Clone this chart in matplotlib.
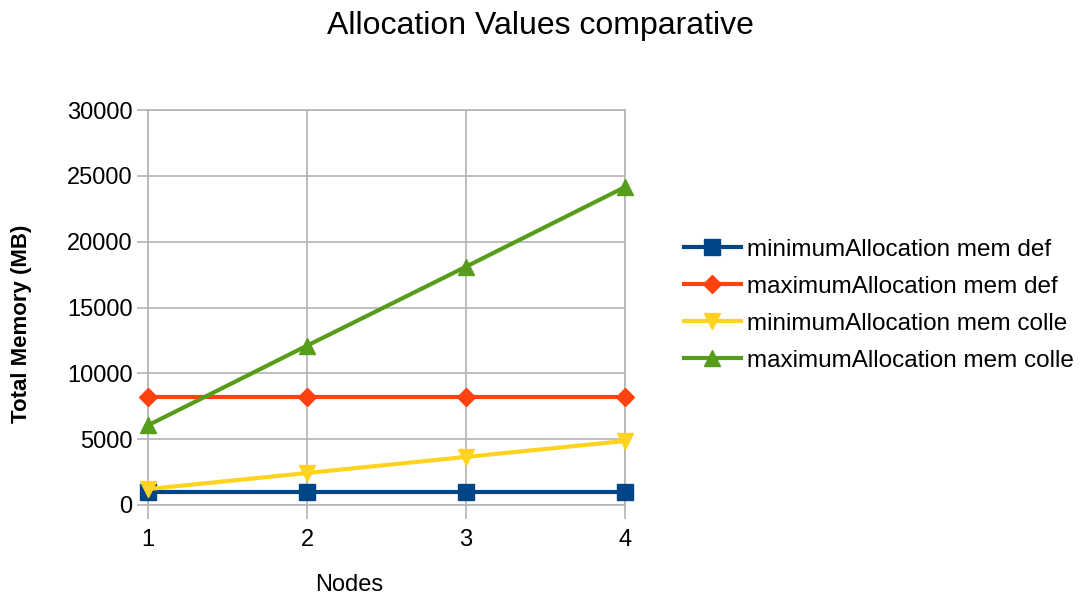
import matplotlib
matplotlib.use("Agg")
import matplotlib.pyplot as plt

plt.rcParams["font.family"] = ["Liberation Sans", "DejaVu Sans"]

nodes = [1, 2, 3, 4]
min_def = [1024, 1024, 1024, 1024]
max_def = [8192, 8192, 8192, 8192]
min_colle = [1210, 2430, 3650, 4860]
max_colle = [6050, 12100, 18100, 24150]
labels = ["minimumAllocation mem def", "maximumAllocation mem def",
          "minimumAllocation mem colle", "maximumAllocation mem colle"]
colors = ["#004586", "#ff420e", "#ffd320", "#579d1c"]
markers = ["s", "D", "v", "^"]
msizes = [11, 9, 12, 12]

fig = plt.figure(figsize=(10.92, 5.96), dpi=100)
ax = fig.add_axes([0.1355, 0.1527, 0.4368, 0.6627])

for ys, lab, c, m, ms in zip([min_def, max_def, min_colle, max_colle], labels, colors, markers, msizes):
    ax.plot(nodes, ys, color=c, lw=3, marker=m, ms=ms, label=lab, clip_on=False, zorder=3)

ax.set_xlim(1, 4)
ax.set_ylim(0, 30000)
ax.set_xticks(nodes)
ax.set_yticks(range(0, 30001, 5000))
ax.grid(color="#b3b3b3", lw=1.2)
ax.set_axisbelow(True)
for s in ax.spines.values():
    s.set_color("#b3b3b3")
    s.set_linewidth(1.2)
ax.tick_params(axis="both", colors="#b3b3b3", labelcolor="black", labelsize=17, width=1.2)
ax.tick_params(axis="y", length=8, pad=3)
ax.tick_params(axis="x", length=10, pad=7)

fig.text(0.495, 0.957, "Allocation Values comparative", ha="center", va="center", fontsize=23)
fig.text(0.32, 0.018, "Nodes", ha="center", va="center", fontsize=17)
fig.text(0.02, 0.456, "Total Memory (MB)", rotation=90, ha="center", va="center",
         fontsize=16, fontweight="bold")

ax.legend(loc="center left", bbox_to_anchor=(0.626, 0.488), bbox_transform=fig.transFigure,
          frameon=False, fontsize=17.5, handlelength=2.35, handletextpad=0.25, labelspacing=0.62,
          borderaxespad=0, borderpad=0)

fig.savefig("out.png", dpi=100)
